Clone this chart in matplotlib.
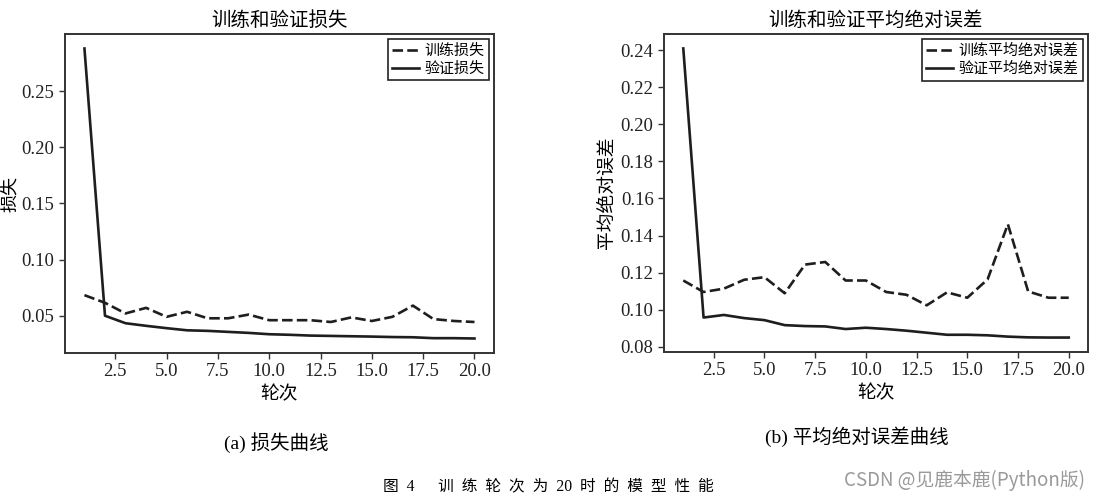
import matplotlib
matplotlib.use("Agg")
import matplotlib.pyplot as plt

epochs = list(range(1, 21))
train_loss = [0.0683, 0.0615, 0.052, 0.057, 0.049, 0.0535, 0.0477, 0.0477, 0.051, 0.046,
              0.046, 0.046, 0.0444, 0.0485, 0.0453, 0.049, 0.059, 0.047, 0.0453, 0.0444]
val_loss = [0.288, 0.050, 0.0433, 0.041, 0.0389, 0.037, 0.0365, 0.0356, 0.0347, 0.0335,
            0.033, 0.0323, 0.032, 0.0317, 0.0314, 0.031, 0.0308, 0.030, 0.030, 0.0297]
train_mae = [0.1157, 0.1095, 0.1113, 0.1161, 0.1175, 0.1088, 0.1243, 0.1257, 0.1157, 0.1157,
             0.1095, 0.108, 0.1023, 0.1093, 0.1064, 0.1163, 0.1461, 0.1098, 0.1064, 0.1064]
val_mae = [0.241, 0.0957, 0.0971, 0.0954, 0.0943, 0.0916, 0.0911, 0.0909, 0.0895, 0.0902,
           0.0895, 0.0886, 0.0875, 0.0864, 0.0864, 0.0861, 0.0854, 0.085, 0.0849, 0.0849]

FAM = ['Liberation Serif', 'Noto Sans CJK SC', 'DejaVu Sans']
plt.rcParams['font.family'] = FAM

fig = plt.figure(figsize=(10.99, 5.0), dpi=100)
ax1 = fig.add_axes([0.0591, 0.294, 0.3904, 0.638])
ax2 = fig.add_axes([0.6042, 0.296, 0.3858, 0.636])

lc = '#1e1e1e'
dash = (0, (4, 1.6))

def style(ax):
    for s in ax.spines.values():
        s.set_color('#333333')
        s.set_linewidth(1.4)
    ax.tick_params(labelsize=13.5, length=4, width=1, color='#333333', labelcolor='#222222')

legkw = dict(loc='upper right', fontsize=10.8, fancybox=False, edgecolor='#222222',
             framealpha=1, handlelength=1.8, borderpad=0.3, labelspacing=0.25,
             handletextpad=0.35, borderaxespad=0.35)

ax1.plot(epochs, train_loss, color=lc, lw=1.9, linestyle=dash, label='训练损失')
ax1.plot(epochs, val_loss, color=lc, lw=1.9, label='验证损失')
ax1.set_xticks([2.5, 5.0, 7.5, 10.0, 12.5, 15.0, 17.5, 20.0])
ax1.set_yticks([0.05, 0.10, 0.15, 0.20, 0.25])
ax1.set_title('训练和验证损失', fontsize=14, pad=6)
ax1.set_xlabel('轮次', fontsize=13.5)
ax1.set_ylabel('损失', fontsize=13)
ax1.yaxis.set_label_coords(-0.106, 0.5)
style(ax1)
leg1 = ax1.legend(**legkw)
leg1.get_frame().set_linewidth(1.2)

ax2.plot(epochs, train_mae, color=lc, lw=1.9, linestyle=dash, label='训练平均绝对误差')
ax2.plot(epochs, val_mae, color=lc, lw=1.9, label='验证平均绝对误差')
ax2.set_xticks([2.5, 5.0, 7.5, 10.0, 12.5, 15.0, 17.5, 20.0])
ax2.set_yticks([0.08, 0.10, 0.12, 0.14, 0.16, 0.18, 0.20, 0.22, 0.24])
ax2.set_title('训练和验证平均绝对误差', fontsize=14, pad=6)
ax2.set_xlabel('轮次', fontsize=13.5)
ax2.set_ylabel('平均绝对误差', fontsize=13.5)
ax2.yaxis.set_label_coords(-0.115, 0.5)
style(ax2)
leg2 = ax2.legend(**legkw)
leg2.get_frame().set_linewidth(1.2)

fig.text(276 / 1099, 1 - 443 / 500, '(a) 损失曲线', ha='center', va='center', fontsize=14)
fig.text(857 / 1099, 1 - 437 / 500, '(b) 平均绝对误差曲线', ha='center', va='center', fontsize=14)
sp = '\u2002'
cap = '图' + sp + '4' + sp * 3 + sp.join(list('训练轮次为')) + sp + '20' + sp + sp.join(list('时的模型性能'))
fig.text(548 / 1099, 1 - 487 / 500, cap, ha='center', va='center', fontsize=11.3)
fig.text(964 / 1099, 1 - 480 / 500, 'CSDN @见鹿本鹿(Python版)', ha='center', va='center',
         fontsize=13.5, color='#9a9a9a', family=['Noto Sans CJK SC', 'DejaVu Sans'])

fig.savefig('out.png', dpi=100)
